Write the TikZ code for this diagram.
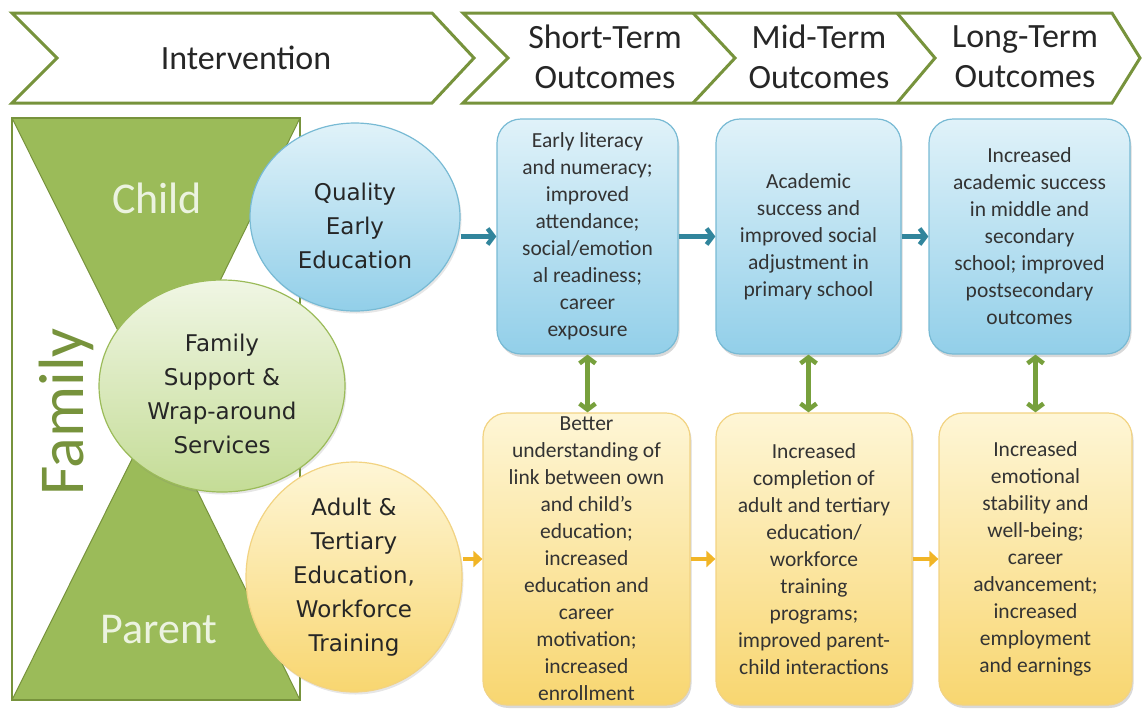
\documentclass[tikz,border=0pt]{standalone}
\usepackage{fontspec}
\setmainfont{Carlito}
\newfontfamily\ovalfont{DejaVu Sans}
\usetikzlibrary{arrows.meta,shapes.geometric,shadows}

\definecolor{olivegreen}{RGB}{119,147,60}
\definecolor{glassgreen}{RGB}{155,187,89}
\definecolor{glasstext}{RGB}{236,243,224}
\definecolor{arrowblue}{RGB}{49,133,156}
\definecolor{arrowgold}{RGB}{241,181,38}
\definecolor{arrowgreen}{RGB}{119,160,60}
\definecolor{blueline}{RGB}{120,186,212}
\definecolor{bluetop}{RGB}{224,242,249}
\definecolor{bluebot}{RGB}{146,207,233}
\definecolor{goldline}{RGB}{242,211,130}
\definecolor{goldtop}{RGB}{254,246,214}
\definecolor{goldbot}{RGB}{248,214,112}
\definecolor{ovaltop}{RGB}{240,246,228}
\definecolor{ovalbot}{RGB}{196,220,150}

\tikzset{
  chevron/.style={draw=olivegreen, line width=3pt, fill=white, line join=miter},
  headtext/.style={font=\fontsize{34}{40}\selectfont, align=center, text=black!85, inner sep=0pt},
  glasstxt/.style={font=\fontsize{44}{50}\selectfont, text=glasstext, inner sep=0pt},
  ovaltxt/.style={font=\ovalfont\fontsize{23}{34}\selectfont, align=center, text=black!85},
  outcome/.style={rounded corners=24pt, line width=1.2pt, inner sep=0pt, align=center,
    font=\fontsize{21.5}{27}\selectfont, text=black!80,
    drop shadow={opacity=0.3, shadow xshift=1.5pt, shadow yshift=-3pt}},
  bluebox/.style={outcome, draw=blueline, top color=bluetop, bottom color=bluebot},
  goldbox/.style={outcome, draw=goldline, top color=goldtop, bottom color=goldbot},
  oval/.style={ellipse, inner sep=0pt, line width=1.2pt,
    drop shadow={opacity=0.2, shadow xshift=1.5pt, shadow yshift=-2.5pt}},
  blueflow/.style={draw=arrowblue, line width=4.5pt, -{Straight Barb[length=6pt,width=16pt]}},
  goldflow/.style={draw=arrowgold, line width=4.5pt, -{Triangle[length=9pt,width=16pt]}},
  linkflow/.style={draw=arrowgreen, line width=4.5pt, {Straight Barb[length=6pt,width=16pt]}-{Straight Barb[length=6pt,width=16pt]}}
}

\begin{document}
\begin{tikzpicture}[x=1pt, y=-1pt]
	%%%%% START %%%%%
	\useasboundingbox (0, 0) rectangle (1142, 710);
	
	% header chevrons
	\draw[chevron] (12, 13) -- (432, 13) -- (474, 58) -- (432, 103) -- (12, 103) -- (57, 58) -- cycle;
	\draw[chevron] (463, 13) -- (1112, 13) -- (1140, 58) -- (1112, 103) -- (463, 103) -- (508, 58) -- cycle;
	\draw[chevron] (693, 13) -- (735, 58) -- (693, 103);
	\draw[chevron] (897, 13) -- (935, 58) -- (897, 103);
	
	\node[headtext] (interv) at (246, 58) {Intervention};
	\node[headtext] (shortterm) at (605, 57) {Short-Term\\Outcomes};
	\node[headtext] (midterm) at (819, 57) {Mid-Term\\Outcomes};
	\node[headtext] (longterm) at (1025, 57) {Long-Term\\Outcomes};
	
	% family hourglass
	\draw[fill=glassgreen, draw=olivegreen, line width=1pt] (12, 118) -- (300, 118) -- (157, 409) -- cycle;
	\draw[fill=glassgreen, draw=olivegreen, line width=1pt] (157, 409) -- (300, 700) -- (12, 700) -- cycle;
	\draw[draw=olivegreen, line width=2pt] (12, 118) rectangle (300, 700);
	
	\node[glasstxt] (child) at (157, 198) {Child};
	\node[glasstxt] (parent) at (159, 630) {Parent};
	\node[font=\fontsize{64}{70}\selectfont, text=olivegreen, rotate=90, inner sep=0pt] (family) at (66, 412) {Family};
	
	% interventions
	\node[oval, draw=blueline, top color=bluetop, bottom color=bluebot, minimum width=210pt, minimum height=188pt,
	  label={[ovaltxt, yshift=-9pt]center:{Quality\\Early\\Education}}] (qee) at (355, 217) {};
	\node[oval, draw=goldline, top color=goldtop, bottom color=goldbot, minimum width=216pt, minimum height=230pt,
	  label={[ovaltxt]center:{Adult \&\\Tertiary\\Education,\\Workforce\\Training}}] (atw) at (354, 577) {};
	\node[oval, draw=glassgreen, top color=ovaltop, bottom color=ovalbot, minimum width=246pt, minimum height=212pt,
	  label={[ovaltxt, yshift=-8pt]center:{Family\\Support \&\\Wrap-around\\Services}}] (fsw) at (222, 386) {};
	
	% child outcomes
	\node[bluebox, minimum width=181pt, minimum height=235pt] (stchild) at (587.5, 236.5)
	  {Early literacy\\and numeracy;\\improved\\attendance;\\social/emotion\\al readiness;\\career\\exposure};
	\node[bluebox, minimum width=185pt, minimum height=235pt] (mtchild) at (808.5, 236.5)
	  {Academic\\success and\\improved social\\adjustment in\\primary school};
	\node[bluebox, minimum width=201pt, minimum height=235pt] (ltchild) at (1029.5, 236.5)
	  {Increased\\academic success\\in middle and\\secondary\\school; improved\\postsecondary\\outcomes};
	
	% parent outcomes
	\node[goldbox, minimum width=207pt, minimum height=292pt] (stparent) at (586.5, 559)
	  {Better\\understanding of\\link between own\\and child’s\\education;\\increased\\education and\\career\\motivation;\\increased\\enrollment};
	\node[goldbox, minimum width=196pt, minimum height=292pt] (mtparent) at (814, 559)
	  {Increased\\completion of\\adult and tertiary\\education/\\workforce\\training\\programs;\\improved parent-\\child interactions};
	\node[goldbox, minimum width=193pt, minimum height=292pt] (ltparent) at (1035.5, 559)
	  {Increased\\emotional\\stability and\\well-being;\\career\\advancement;\\increased\\employment\\and earnings};
	
	% flows
	\draw[blueflow] (qee.east |- stchild.west) -- (stchild.west);
	\draw[blueflow] (stchild.east) -- (mtchild.west);
	\draw[blueflow] (mtchild.east) -- (ltchild.west);
	
	\draw[goldflow] (atw.east |- stparent.west) -- (stparent.west);
	\draw[goldflow] (stparent.east) -- (mtparent.west);
	\draw[goldflow] (mtparent.east) -- (ltparent.west);
	
	\draw[linkflow] (stchild.south) -- (stchild.south |- stparent.north);
	\draw[linkflow] (mtchild.south) -- (mtchild.south |- mtparent.north);
	\draw[linkflow] (ltparent.north |- ltchild.south) -- (ltparent.north);
	%%%%% END %%%%%
\end{tikzpicture}
\end{document}
